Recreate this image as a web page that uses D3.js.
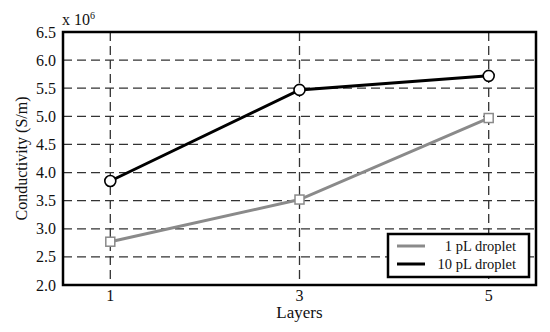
<!DOCTYPE html>
<html>
<head>
<meta charset="utf-8">
<script src="https://cdn.jsdelivr.net/npm/d3@7"></script>
<style>
  body { margin: 0; background: #fff; }
  text { font-family: "Liberation Serif", "DejaVu Serif", serif; fill: #111; }
</style>
</head>
<body>
<div class="canvas"></div>
<script>
// Data
const layers = [1, 3, 5];
const small = [2.77, 3.52, 4.97];   // 1 pL droplet
const large = [3.85, 5.47, 5.72];   // 10 pL droplet
const yTicks = [2.0, 2.5, 3.0, 3.5, 4.0, 4.5, 5.0, 5.5, 6.0, 6.5];
const seriesNames = ['1 pL droplet', '10 pL droplet'];

// Dimensions
const dims = { width: 550, height: 332, left: 63, right: 536, top: 32, bottom: 285 };

const svg = d3.select('.canvas')
    .append('svg')
    .attr('width', dims.width)
    .attr('height', dims.height);

const x = d3.scaleLinear().domain([0.5, 5.5]).range([dims.left, dims.right]);
const y = d3.scaleLinear().domain([2.0, 6.5]).range([dims.bottom, dims.top]);

// Grid
const grid = svg.append('g')
    .attr('stroke', '#333')
    .attr('stroke-width', 1.3)
    .attr('stroke-dasharray', '9,5');

grid.selectAll('line.h')
    .data(yTicks.slice(1, -1))
    .enter()
    .append('line')
        .attr('class', 'h')
        .attr('x1', dims.left).attr('x2', dims.right)
        .attr('y1', d => y(d)).attr('y2', d => y(d));

grid.selectAll('line.v')
    .data(layers)
    .enter()
    .append('line')
        .attr('class', 'v')
        .attr('x1', d => x(d)).attr('x2', d => x(d))
        .attr('y1', dims.top).attr('y2', dims.bottom);

// Tick labels
svg.append('g')
    .selectAll('text')
    .data(yTicks)
    .enter()
    .append('text')
        .attr('x', dims.left - 7)
        .attr('y', d => y(d) + 5.5)
        .attr('text-anchor', 'end')
        .attr('font-size', 16)
        .text(d => d.toFixed(1));

svg.append('g')
    .selectAll('text')
    .data(layers)
    .enter()
    .append('text')
        .attr('x', d => x(d))
        .attr('y', dims.bottom + 16)
        .attr('text-anchor', 'middle')
        .attr('font-size', 16)
        .text(d => d);

// Exponent
const expo = svg.append('text')
    .attr('x', dims.left - 1)
    .attr('y', 25)
    .attr('font-size', 16);
expo.append('tspan').text('x 10');
expo.append('tspan').attr('font-size', 10).attr('dy', -6).text('6');

// Axis titles
svg.append('text')
    .attr('transform', `translate(27, ${(dims.top + dims.bottom) / 2}) rotate(-90)`)
    .attr('text-anchor', 'middle')
    .attr('font-size', 16)
    .text('Conductivity (S/m)');

svg.append('text')
    .attr('x', (dims.left + dims.right) / 2)
    .attr('y', 318)
    .attr('text-anchor', 'middle')
    .attr('font-size', 17)
    .text('Layers');

// Lines
const line = d3.line()
    .x((d, i) => x(layers[i]))
    .y(d => y(d));

svg.append('path')
    .datum(small)
    .attr('d', line)
    .attr('fill', 'none')
    .attr('stroke', '#8a8a8a')
    .attr('stroke-width', 3);

svg.append('path')
    .datum(large)
    .attr('d', line)
    .attr('fill', 'none')
    .attr('stroke', '#000')
    .attr('stroke-width', 3);

// Markers
svg.selectAll('rect.marker')
    .data(small)
    .enter()
    .append('rect')
        .attr('class', 'marker')
        .attr('x', (d, i) => x(layers[i]) - 4.5)
        .attr('y', d => y(d) - 4.5)
        .attr('width', 9)
        .attr('height', 9)
        .attr('fill', '#fff')
        .attr('stroke', '#8a8a8a')
        .attr('stroke-width', 1.5);

svg.selectAll('circle.marker')
    .data(large)
    .enter()
    .append('circle')
        .attr('class', 'marker')
        .attr('cx', (d, i) => x(layers[i]))
        .attr('cy', d => y(d))
        .attr('r', 5.5)
        .attr('fill', '#fff')
        .attr('stroke', '#000')
        .attr('stroke-width', 1.6);

// Plot frame
svg.append('rect')
    .attr('x', dims.left)
    .attr('y', dims.top)
    .attr('width', dims.right - dims.left)
    .attr('height', dims.bottom - dims.top)
    .attr('fill', 'none')
    .attr('stroke', '#000')
    .attr('stroke-width', 2.5);

// Legend
const legend = svg.append('g').attr('transform', 'translate(388, 234)');
legend.append('rect')
    .attr('width', 141)
    .attr('height', 43)
    .attr('fill', '#fff')
    .attr('stroke', '#000')
    .attr('stroke-width', 2.5);

const items = legend.selectAll('g.item')
    .data(seriesNames)
    .enter()
    .append('g')
        .attr('class', 'item')
        .attr('transform', (d, i) => `translate(0, ${12 + i * 18})`);

items.append('line')
    .attr('x1', 9).attr('x2', 37)
    .attr('stroke', (d, i) => i === 0 ? '#8a8a8a' : '#000')
    .attr('stroke-width', 3);

items.append('text')
    .attr('x', 128)
    .attr('y', 4.5)
    .attr('text-anchor', 'end')
    .attr('font-size', 14.5)
    .text(d => d);
</script>
</body>
</html>
